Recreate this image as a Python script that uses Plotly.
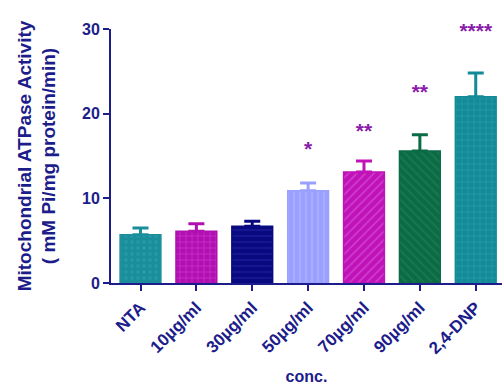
import plotly.graph_objects as go

# Data
categories = ["NTA", "10µg/ml", "30µg/ml", "50µg/ml", "70µg/ml", "90µg/ml", "2,4-DNP"]
means = [5.7, 6.1, 6.7, 10.9, 13.1, 15.6, 22.0]
sem = [0.8, 0.9, 0.6, 0.9, 1.3, 1.9, 2.8]
stars = ["", "", "", "*", "**", "**", "****"]
star_y = [None, None, None, 15.6, 17.8, 22.3, 29.6]

# Styling per bar
fill_colors = ["#1b8e9c", "#b010b0", "#0a0a80", "#9aa0ff", "#c012b8", "#0b6b45", "#138a98"]
pattern_fg = ["#2fa8b8", "#e050e0", "#2a2ab0", "#c0c4ff", "#e070e0", "#2a8a60", "#3aaab8"]
pattern_shape = [".", "+", "-", "|", "/", "\\", "+"]

axis_color = "#1c1c8a"
text_color = "#1c1c8a"
star_color = "#8a1aa8"
font_family = "Liberation Sans"

fig = go.Figure()
for i, cat in enumerate(categories):
    fig.add_trace(go.Bar(
        x=[i], y=[means[i]],
        width=0.73,
        marker=dict(
            color=fill_colors[i],
            line=dict(color=fill_colors[i], width=1.5),
            pattern=dict(shape=pattern_shape[i], fgcolor=pattern_fg[i],
                         bgcolor=fill_colors[i], size=6, solidity=0.25),
        ),
        error_y=dict(type="data", symmetric=False, array=[sem[i]], arrayminus=[0],
                     color=fill_colors[i], thickness=3, width=8),
        showlegend=False,
        cliponaxis=False,
    ))

# Significance markers
sx = [i for i, s in enumerate(stars) if s]
fig.add_trace(go.Scatter(
    x=sx, y=[star_y[i] for i in sx], mode="text",
    text=[f"<b>{stars[i]}</b>" for i in sx],
    textfont=dict(family=font_family, size=21, color=star_color),
    textposition="middle center",
    showlegend=False, cliponaxis=False,
))

fig.update_layout(
    width=502, height=388,
    margin=dict(l=111, r=0, t=29, b=105),
    plot_bgcolor="white", paper_bgcolor="white",
    barmode="overlay",
    font=dict(family=font_family, color=text_color, size=15),
)
fig.update_xaxes(
    range=[-0.528, 6.47],
    tickmode="array", tickvals=list(range(len(categories))),
    ticktext=[f"<b>{c}</b>" for c in categories],
    tickangle=-45,
    tickfont=dict(size=17, color=text_color),
    ticks="outside", ticklen=6, tickwidth=2, tickcolor=axis_color,
    showline=True, linecolor=axis_color, linewidth=2,
    showgrid=False, zeroline=False,
    title=dict(text="<b>conc.</b>", font=dict(size=16, color=text_color), standoff=14),
)
fig.update_yaxes(
    range=[0, 30],
    tickvals=[0, 10, 20, 30],
    ticktext=["<b>0</b>", "<b>10</b>", "<b>20</b>", "<b>30</b>"],
    tickfont=dict(size=16, color=text_color),
    ticks="outside", ticklen=6, tickwidth=2, tickcolor=axis_color,
    showline=True, linecolor=axis_color, linewidth=2,
    showgrid=False, zeroline=False,
    title=dict(text="<b>Mitochondrial ATPase Activity</b><br><b>( mM Pi/mg protein/min)</b>",
               font=dict(size=19, color=text_color), standoff=21),
)

fig.write_html("out.html")
